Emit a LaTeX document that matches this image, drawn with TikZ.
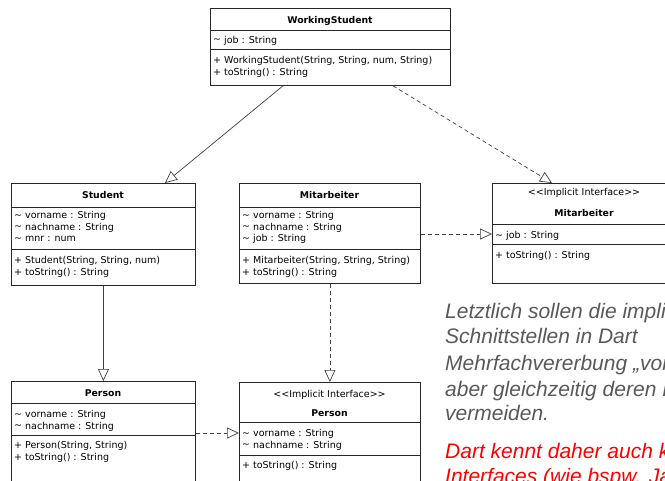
\documentclass[tikz,border=0pt]{standalone}
\usepackage{fontspec}
\setmainfont{DejaVu Sans}
\newfontfamily\notefont{Liberation Sans}
\usetikzlibrary{arrows.meta}
\definecolor{notegray}{HTML}{595959}
\definecolor{notered}{HTML}{FF0000}
\newcommand{\tld}{\raisebox{0.5pt}{\textasciitilde}}
\newcommand{\stereo}{{<}{<}Implicit Interface{>}{>}}
\tikzset{
 cls/.style={draw=black!85, line width=0.8pt, fill=white, inner sep=0pt, anchor=north west},
 txt/.style={anchor=base west, inner sep=0pt, font=\fontsize{9.5}{11}\selectfont},
 ttl/.style={anchor=base, inner sep=0pt, font=\fontsize{9.3}{11}\selectfont\bfseries},
 ster/.style={anchor=base, inner sep=0pt, font=\fontsize{9.5}{11}\selectfont},
 sepline/.style={draw=black!85, line width=0.8pt},
 inh/.style={draw=black!75, line width=0.7pt, -{Triangle[open, length=12pt, width=11pt, fill=white]}},
 real/.style={inh, dash pattern=on 4pt off 3pt},
 note/.style={anchor=base west, inner sep=0pt, font=\notefont\itshape\fontsize{21}{24}\selectfont, text=notegray},
 notered/.style={note, text=notered},
}
\begin{document}
\begin{tikzpicture}[x=1pt,y=-1pt]
\useasboundingbox (0,0) rectangle (665,480);
\clip (0,0) rectangle (665,480);
% WorkingStudent
\node[cls, minimum width=240pt, minimum height=77pt] (ws) at (210,8) {};
\draw[sepline] ([yshift=-22pt]ws.north west) -- ([yshift=-22pt]ws.north east);
\draw[sepline] ([yshift=-41pt]ws.north west) -- ([yshift=-41pt]ws.north east);
\node[ttl] (wsT) at (330,23) {WorkingStudent};
\node[txt] (wsA) at (213,43) {\tld{} job : String};
\node[txt] (wsM1) at (213,63.5) {+ WorkingStudent(String, String, num, String)};
\node[txt] (wsM2) at (213,75.5) {+ toString() : String};
% Student
\node[cls, minimum width=184pt, minimum height=102pt] (st) at (11,183) {};
\draw[sepline] ([yshift=-24pt]st.north west) -- ([yshift=-24pt]st.north east);
\draw[sepline] ([yshift=-66pt]st.north west) -- ([yshift=-66pt]st.north east);
\node[ttl] (stT) at (103,198.5) {Student};
\node[txt] (stA1) at (14,218.5) {\tld{} vorname : String};
\node[txt] (stA2) at (14,230) {\tld{} nachname : String};
\node[txt] (stA3) at (14,241.5) {\tld{} mnr : num};
\node[txt] (stM1) at (14,263.5) {+ Student(String, String, num)};
\node[txt] (stM2) at (14,275) {+ toString() : String};
% Mitarbeiter
\node[cls, minimum width=181pt, minimum height=100pt] (mi) at (239,183) {};
\draw[sepline] ([yshift=-24pt]mi.north west) -- ([yshift=-24pt]mi.north east);
\draw[sepline] ([yshift=-66pt]mi.north west) -- ([yshift=-66pt]mi.north east);
\node[ttl] (miT) at (329.5,198.5) {Mitarbeiter};
\node[txt] (miA1) at (242,218.5) {\tld{} vorname : String};
\node[txt] (miA2) at (242,230) {\tld{} nachname : String};
\node[txt] (miA3) at (242,241.5) {\tld{} job : String};
\node[txt] (miM1) at (242,263.5) {+ Mitarbeiter(String, String, String)};
\node[txt] (miM2) at (242,275) {+ toString() : String};
% Interface Mitarbeiter
\node[cls, minimum width=184pt, minimum height=100pt] (imi) at (492,183) {};
\draw[sepline] ([yshift=-41pt]imi.north west) -- ([yshift=-41pt]imi.north east);
\draw[sepline] ([yshift=-61pt]imi.north west) -- ([yshift=-61pt]imi.north east);
\node[ster] (imiS) at (584,195.5) {\stereo};
\node[ttl] (imiT) at (584,216.5) {Mitarbeiter};
\node[txt] (imiA1) at (495,238.5) {\tld{} job : String};
\node[txt] (imiM1) at (495,258.5) {+ toString() : String};
% Person
\node[cls, minimum width=184pt, minimum height=109pt] (pe) at (11,381) {};
\draw[sepline] ([yshift=-22pt]pe.north west) -- ([yshift=-22pt]pe.north east);
\draw[sepline] ([yshift=-54pt]pe.north west) -- ([yshift=-54pt]pe.north east);
\node[ttl] (peT) at (103,396.5) {Person};
\node[txt] (peA1) at (14,417.5) {\tld{} vorname : String};
\node[txt] (peA2) at (14,429) {\tld{} nachname : String};
\node[txt] (peM1) at (14,448.5) {+ Person(String, String)};
\node[txt] (peM2) at (14,460) {+ toString() : String};
% Interface Person
\node[cls, minimum width=181pt, minimum height=108pt] (ipe) at (239,382) {};
\draw[sepline] ([yshift=-40pt]ipe.north west) -- ([yshift=-40pt]ipe.north east);
\draw[sepline] ([yshift=-73pt]ipe.north west) -- ([yshift=-73pt]ipe.north east);
\node[ster] (ipeS) at (329.5,397.5) {\stereo};
\node[ttl] (ipeT) at (329.5,416.5) {Person};
\node[txt] (ipeA1) at (242,436.5) {\tld{} vorname : String};
\node[txt] (ipeA2) at (242,448) {\tld{} nachname : String};
\node[txt] (ipeM1) at (242,468.5) {+ toString() : String};
% connectors
\draw[inh] ([xshift=73pt]ws.south west) -- ([xshift=154pt]st.north west);
\draw[real] ([xshift=183pt]ws.south west) -- ([xshift=60pt]imi.north west);
\draw[real] ([yshift=-51pt]mi.north east) -- ([yshift=-51pt]imi.north west);
\draw[inh] (st.south) -- (pe.north);
\draw[real] (mi.south) -- (ipe.north);
\draw[real] ([yshift=-52pt]pe.north east) -- ([yshift=-51pt]ipe.north west);
% note text
\node[note] (n1) at (445,318) {Letztlich sollen die impliziten};
\node[note] (n2) at (445,343) {Schnittstellen in Dart};
\node[note] (n3) at (445,370) {Mehrfachvererbung „vortäuschen“,};
\node[note] (n4) at (445,396) {aber gleichzeitig deren Probleme};
\node[note] (n5) at (445,420) {vermeiden.};
\node[notered] (n6) at (445,458) {Dart kennt daher auch keine};
\node[notered] (n7) at (445,483) {Interfaces (wie bspw. Java)};
\end{tikzpicture}
\end{document}
